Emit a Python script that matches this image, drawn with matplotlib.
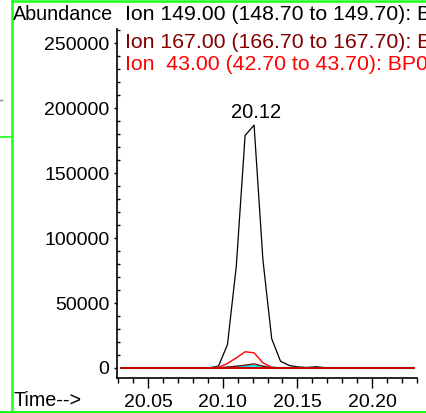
import matplotlib
matplotlib.use("Agg")
import matplotlib.pyplot as plt
from matplotlib.lines import Line2D
from matplotlib.ticker import MultipleLocator, FixedLocator

plt.rcParams['font.family'] = ['Liberation Sans', 'DejaVu Sans']

# Scan times (min)
times = [20.0320, 20.0379, 20.0439, 20.0498, 20.0557, 20.0617, 20.0676, 20.0735,
         20.0794, 20.0854, 20.0913, 20.0972, 20.1032, 20.1091, 20.1150, 20.1210,
         20.1269, 20.1328, 20.1387, 20.1447, 20.1506, 20.1565, 20.1625, 20.1684,
         20.1743, 20.1802, 20.1862, 20.1921, 20.1980, 20.2040, 20.2099, 20.2158,
         20.2217, 20.2277]

# Extracted ion abundances
ion_149 = [0, 0, 0, 0, 0, 0, 0, 0, 0, 0, 200, 1500, 18000, 78300, 179000, 187000,
           83500, 22500, 5200, 1900, 800, 400, 1000, 300, 0, 0, 0, 0, 0, 0, 0, 0, 0, 0]
ion_167 = [0, 0, 0, 0, 0, 0, 0, 0, 0, 0, 0, 200, 700, 1400, 2200, 3200,
           1400, 100, 0, 0, 0, 0, 0, 0, 0, 0, 0, 0, 0, 0, 0, 0, 0, 0]
ion_extra = [0, 0, 0, 0, 0, 0, 0, 0, 0, 0, 0, 100, 300, 900, 1500, 1800,
             1200, 300, 0, 0, 0, 0, 0, 0, 0, 0, 0, 0, 0, 0, 0, 0, 0, 0]
ion_43 = [0, 0, 0, 0, 0, 0, 0, 0, 0, 0, 0, 500, 3500, 7800, 12500, 11700,
          4000, 600, 0, 0, 0, 0, 0, 0, 0, 0, 0, 0, 0, 0, 0, 0, 0, 0]

peak_label = "20.12"
peak_time = 20.1210
peak_value = 187000

legend_rows = [
    ("Ion 149.00 (148.70 to 149.70): BP0101.D\\data.ms", "black"),
    ("Ion 167.00 (166.70 to 167.70): BP0101.D\\data.ms", "#800000"),
    ("Ion  43.00 (42.70 to 43.70): BP0101.D\\data.ms", "#ff0000"),
]
xtick_values = [20.05, 20.10, 20.15, 20.20]
ytick_values = [0, 50000, 100000, 150000, 200000, 250000]

W, H = 426, 413
fig = plt.figure(figsize=(W / 100, H / 100), dpi=100)


def fx(px):
    return px / W


def fy(py):
    return 1 - py / H


ax = fig.add_axes([fx(117), fy(378), fx(417) - fx(117), fy(29) - fy(378)])
ax.set_xlim(20.0293, 20.23)
ax.set_ylim(-7700, 261000)

ax.plot(times, ion_149, color="black", lw=0.9)
ax.plot(times, ion_extra, color="#00e5e5", lw=1.6)
ax.plot(times, ion_167, color="#800000", lw=0.9)
ax.plot(times, ion_43, color="#ff0000", lw=1.0)
ax.plot(times, [0] * len(times), color="#d00000", lw=1.4)

ax.text(peak_time + 0.0015, peak_value + 2500, peak_label, ha="center", va="bottom",
        fontsize=14.5)

for s in ("top", "right"):
    ax.spines[s].set_visible(False)
for s in ("left", "bottom"):
    ax.spines[s].set_linewidth(1.2)

ax.xaxis.set_major_locator(FixedLocator(xtick_values))
ax.set_xticklabels([f"{v:.2f}" for v in xtick_values])
ax.xaxis.set_minor_locator(MultipleLocator(0.01))
ax.yaxis.set_major_locator(FixedLocator(ytick_values))
ax.set_yticklabels([str(v) for v in ytick_values])
ax.yaxis.set_minor_locator(MultipleLocator(10000))

ax.tick_params(axis="x", which="major", direction="out", length=7, width=1.0,
               labelsize=14, pad=4.5)
ax.tick_params(axis="x", which="minor", direction="out", length=3.6, width=1.0)
ax.tick_params(axis="y", which="major", direction="out", length=2.5, width=1.0,
               labelsize=14, pad=3)
ax.tick_params(axis="y", which="minor", direction="in", length=1.8, width=1.0)

# Header texts
fig.text(fx(12.5), fy(15), "Abundance", ha="left", va="center", fontsize=14.2)
row_y = [15, 43, 64]
for (txt, col), yy in zip(legend_rows, row_y):
    fig.text(fx(125), fy(yy), txt, ha="left", va="center", fontsize=15.3, color=col)
fig.text(fx(13), fy(400), "Time-->", ha="left", va="center", fontsize=14.2)

# Window frame
green = "#1aff1a"
fig.add_artist(Line2D([fx(11.5), fx(11.5)], [fy(0), fy(412)], color=green, lw=1.8))
fig.add_artist(Line2D([fx(11.5), fx(430)], [fy(0.5), fy(0.5)], color=green, lw=1.8))
fig.add_artist(Line2D([fx(0), fx(430)], [fy(412), fy(412)], color=green, lw=1.5))
fig.add_artist(Line2D([fx(0), fx(11)], [fy(137), fy(137)], color=green, lw=1.2))
fig.add_artist(Line2D([fx(0), fx(1.5)], [fy(100), fy(100)], color="#888888", lw=1.0))

fig.savefig("out.png", dpi=100)
